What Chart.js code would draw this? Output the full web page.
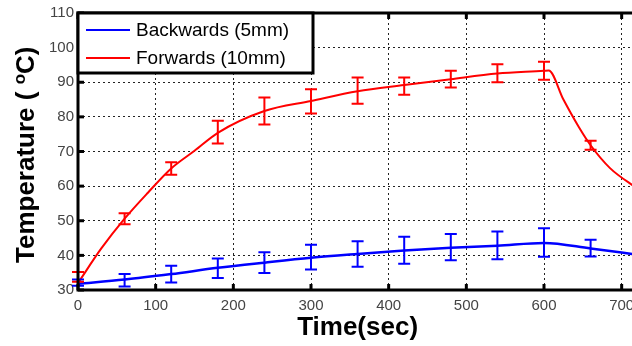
<!DOCTYPE html>
<html lang="en">
<head>
<meta charset="utf-8">
<title>Temperature vs time</title>
<script src="https://cdn.jsdelivr.net/npm/chart.js@4.4.0/dist/chart.umd.min.js"></script>
<style>
    html, body { margin: 0; padding: 0; background: #fff; overflow: hidden; }
    #wrap { position: relative; width: 660px; height: 346px; }
</style>
</head>
<body>
<div id="wrap"><canvas id="myChart"></canvas></div>
<script>
    // error bar samples (sec)
    var barTimes = [0, 60, 120, 180, 240, 300, 360, 420, 480, 540, 600, 660];
    var backMean = [32.1, 32.8, 34.6, 36.3, 37.9, 39.5, 40.4, 41.5, 42.4, 42.9, 43.7, 42.1];
    var backErr  = [0.9, 1.8, 2.4, 2.8, 3.0, 3.6, 3.7, 3.9, 3.8, 4.0, 4.1, 2.4];
    var fwdMean  = [33.8, 50.6, 65.1, 75.6, 81.7, 84.5, 87.6, 88.9, 90.9, 92.6, 93.3, 71.8];
    var fwdErr   = [1.4, 1.6, 1.8, 3.3, 3.9, 3.5, 3.8, 2.5, 2.4, 2.6, 2.6, 1.3];

    var backCurveT = [0, 60, 120, 180, 240, 300, 360, 420, 480, 540, 600, 660, 720];
    var backCurveV = [31.8, 33.0, 34.6, 36.4, 37.9, 39.3, 40.4, 41.4, 42.2, 42.8, 43.6, 42.0, 40.2];
    var fwdCurveT = [0, 30, 60, 90, 120, 150, 180, 240, 300, 360, 420, 480, 540, 600, 606, 625, 645, 660, 685, 720];
    var fwdCurveV = [32.0, 42.0, 50.6, 58.1, 65.1, 70.2, 75.4, 81.7, 84.6, 87.4, 89.2, 90.9, 92.5, 93.3, 93.4, 85.0, 77.0, 71.8, 65.2, 59.3];

    var seriesLabels = ['Backwards (5mm)', 'Forwards (10mm)'];
    var seriesColors = ['#0000ff', '#ff0000'];
    var xMin = 0, xMax = 720, xStep = 100;
    var yMin = 30, yMax = 110, yStep = 10;

    var FONT = '"Liberation Sans", Arial, sans-serif';

    function pts(t, v) {
        return t.map(function (x, i) { return { x: x, y: v[i] }; });
    }

    // error bars, frame, inward ticks, boxed legend and y title
    var decor = {
        id: 'decor',
        afterDatasetsDraw: function (chart) {
            var ctx = chart.ctx, a = chart.chartArea;
            var xs = chart.scales.x, ys = chart.scales.y;

            var bars = [[backMean, backErr], [fwdMean, fwdErr]];
            ctx.save();
            ctx.lineWidth = 2;
            bars.forEach(function (b, s) {
                ctx.strokeStyle = seriesColors[s];
                barTimes.forEach(function (t, i) {
                    var px = xs.getPixelForValue(t);
                    var top = ys.getPixelForValue(b[0][i] + b[1][i]);
                    var bot = ys.getPixelForValue(b[0][i] - b[1][i]);
                    ctx.beginPath();
                    ctx.moveTo(px, top); ctx.lineTo(px, bot);
                    ctx.moveTo(px - 6, top); ctx.lineTo(px + 6, top);
                    ctx.moveTo(px - 6, bot); ctx.lineTo(px + 6, bot);
                    ctx.stroke();
                });
            });

            // axes box
            ctx.strokeStyle = '#000';
            ctx.lineWidth = 3;
            ctx.strokeRect(a.left, a.top, a.right - a.left, a.bottom - a.top);

            // tick marks pointing in
            ctx.lineWidth = 3;
            xs.ticks.forEach(function (tk) {
                var px = xs.getPixelForValue(tk.value);
                ctx.beginPath();
                ctx.moveTo(px, a.bottom); ctx.lineTo(px, a.bottom - 6);
                ctx.moveTo(px, a.top); ctx.lineTo(px, a.top + 6);
                ctx.stroke();
            });
            ys.ticks.forEach(function (tk) {
                var py = ys.getPixelForValue(tk.value);
                ctx.beginPath();
                ctx.moveTo(a.left, py); ctx.lineTo(a.left + 6, py);
                ctx.stroke();
            });

            // legend box
            var lx = a.left, ly = a.top, lw = 235, lh = 60;
            ctx.fillStyle = '#fff';
            ctx.fillRect(lx, ly, lw, lh);
            ctx.strokeRect(lx, ly, lw, lh);
            ctx.font = '19px ' + FONT;
            ctx.textBaseline = 'middle';
            ctx.textAlign = 'left';
            seriesLabels.forEach(function (lab, i) {
                var yy = ly + 17 + i * 28;
                ctx.strokeStyle = seriesColors[i];
                ctx.lineWidth = 2;
                ctx.beginPath();
                ctx.moveTo(lx + 8, yy); ctx.lineTo(lx + 52, yy);
                ctx.stroke();
                ctx.fillStyle = '#000';
                ctx.fillText(lab, lx + 58, yy + 1);
            });

            // y axis title with raised "o"
            ctx.translate(34, 263);
            ctx.rotate(-Math.PI / 2);
            ctx.textBaseline = 'alphabetic';
            ctx.fillStyle = '#000';
            ctx.font = 'bold 26px ' + FONT;
            var p1 = 'Temperature ( ';
            ctx.fillText(p1, 0, 0);
            var w = ctx.measureText(p1).width;
            ctx.font = 'bold 17px ' + FONT;
            ctx.fillText('o', w, -9);
            w += ctx.measureText('o').width;
            ctx.font = 'bold 26px ' + FONT;
            ctx.fillText('C)', w, 0);
            ctx.restore();
        }
    };

    var ctx = document.getElementById('myChart').getContext('2d');
    var myChart = new Chart(ctx, {
        type: 'line',
        data: {
            datasets: [{
                label: seriesLabels[0],
                data: pts(backCurveT, backCurveV),
                borderColor: seriesColors[0],
                borderWidth: 2.5,
                pointRadius: 0,
                cubicInterpolationMode: 'monotone'
            }, {
                label: seriesLabels[1],
                data: pts(fwdCurveT, fwdCurveV),
                borderColor: seriesColors[1],
                borderWidth: 2,
                pointRadius: 0,
                cubicInterpolationMode: 'monotone'
            }]
        },
        options: {
            responsive: true,
            maintainAspectRatio: false,
            animation: false,
            layout: { padding: { top: 11, right: 22.8, left: 0, bottom: 0 } },
            plugins: {
                legend: { display: false },
                tooltip: { enabled: false }
            },
            scales: {
                x: {
                    type: 'linear',
                    min: xMin, max: xMax,
                    ticks: {
                        stepSize: xStep,
                        includeBounds: false,
                        autoSkip: false,
                        maxRotation: 0,
                        padding: 7,
                        color: '#444',
                        font: { family: FONT, size: 15 }
                    },
                    grid: { color: '#222', lineWidth: 1, drawTicks: false },
                    border: { display: false, dash: [2, 3] },
                    title: {
                        display: true,
                        text: 'Time(sec)',
                        color: '#000',
                        font: { family: FONT, size: 26, weight: 'bold' },
                        padding: { top: 0, bottom: 3 }
                    },
                    afterFit: function (s) { s.height = 56; }
                },
                y: {
                    min: yMin, max: yMax,
                    ticks: {
                        stepSize: yStep,
                        padding: 4,
                        color: '#444',
                        font: { family: FONT, size: 15 }
                    },
                    grid: { color: '#222', lineWidth: 1, drawTicks: false },
                    border: { display: false, dash: [2, 3] },
                    afterFit: function (s) { s.width = 78; }
                }
            }
        },
        plugins: [decor]
    });
</script>
</body>
</html>
